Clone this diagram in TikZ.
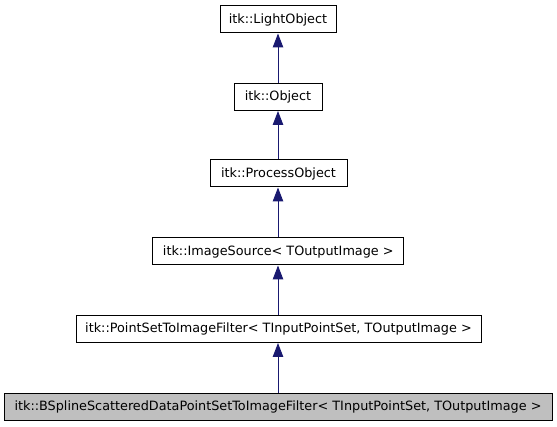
\documentclass[tikz,border=0pt]{standalone}
\usepackage{fontspec}
\setmainfont{DejaVu Sans}
\usetikzlibrary{arrows.meta}
\definecolor{edgeblue}{HTML}{191970}
\definecolor{boxgray}{HTML}{BFBFBF}
\begin{document}
\begin{tikzpicture}[x=1pt,y=-1pt,
  cls/.style={draw=black,line width=1pt,fill=white,inner sep=0pt,minimum height=27pt,font=\fontsize{12.8}{14}\selectfont},
  cur/.style={cls,fill=boxgray},
  inh/.style={draw=edgeblue,line width=1pt,-{Triangle[length=14pt,width=10.5pt]}}]
\useasboundingbox (0,0) rectangle (557,427);
\node[cls,minimum width=116pt] (lo) at (278,19.5) {itk::LightObject};
\node[cls,minimum width=88pt] (ob) at (278,97) {itk::Object};
\node[cls,minimum width=137pt] (po) at (278.5,173.5) {itk::ProcessObject};
\node[cls,minimum width=251pt] (is) at (278.3,251.5) {itk::ImageSource< TOutputImage >};
\node[cls,minimum width=405pt] (ps) at (278.5,329) {itk::PointSetToImageFilter< TInputPointSet, TOutputImage >};
\node[cur,minimum width=548pt] (bs) at (278,407) {itk::BSplineScatteredDataPointSetToImageFilter< TInputPointSet, TOutputImage >};
\draw[inh] (ob.north -| lo.south) -- (lo.south);
\draw[inh] (po.north -| ob.south) -- (ob.south);
\draw[inh] (is.north -| ob.south) -- (po.south -| ob.south);
\draw[inh] (ps.north -| ob.south) -- (is.south -| ob.south);
\draw[inh] (bs.north -| ob.south) -- (ps.south -| ob.south);
\end{tikzpicture}
\end{document}
